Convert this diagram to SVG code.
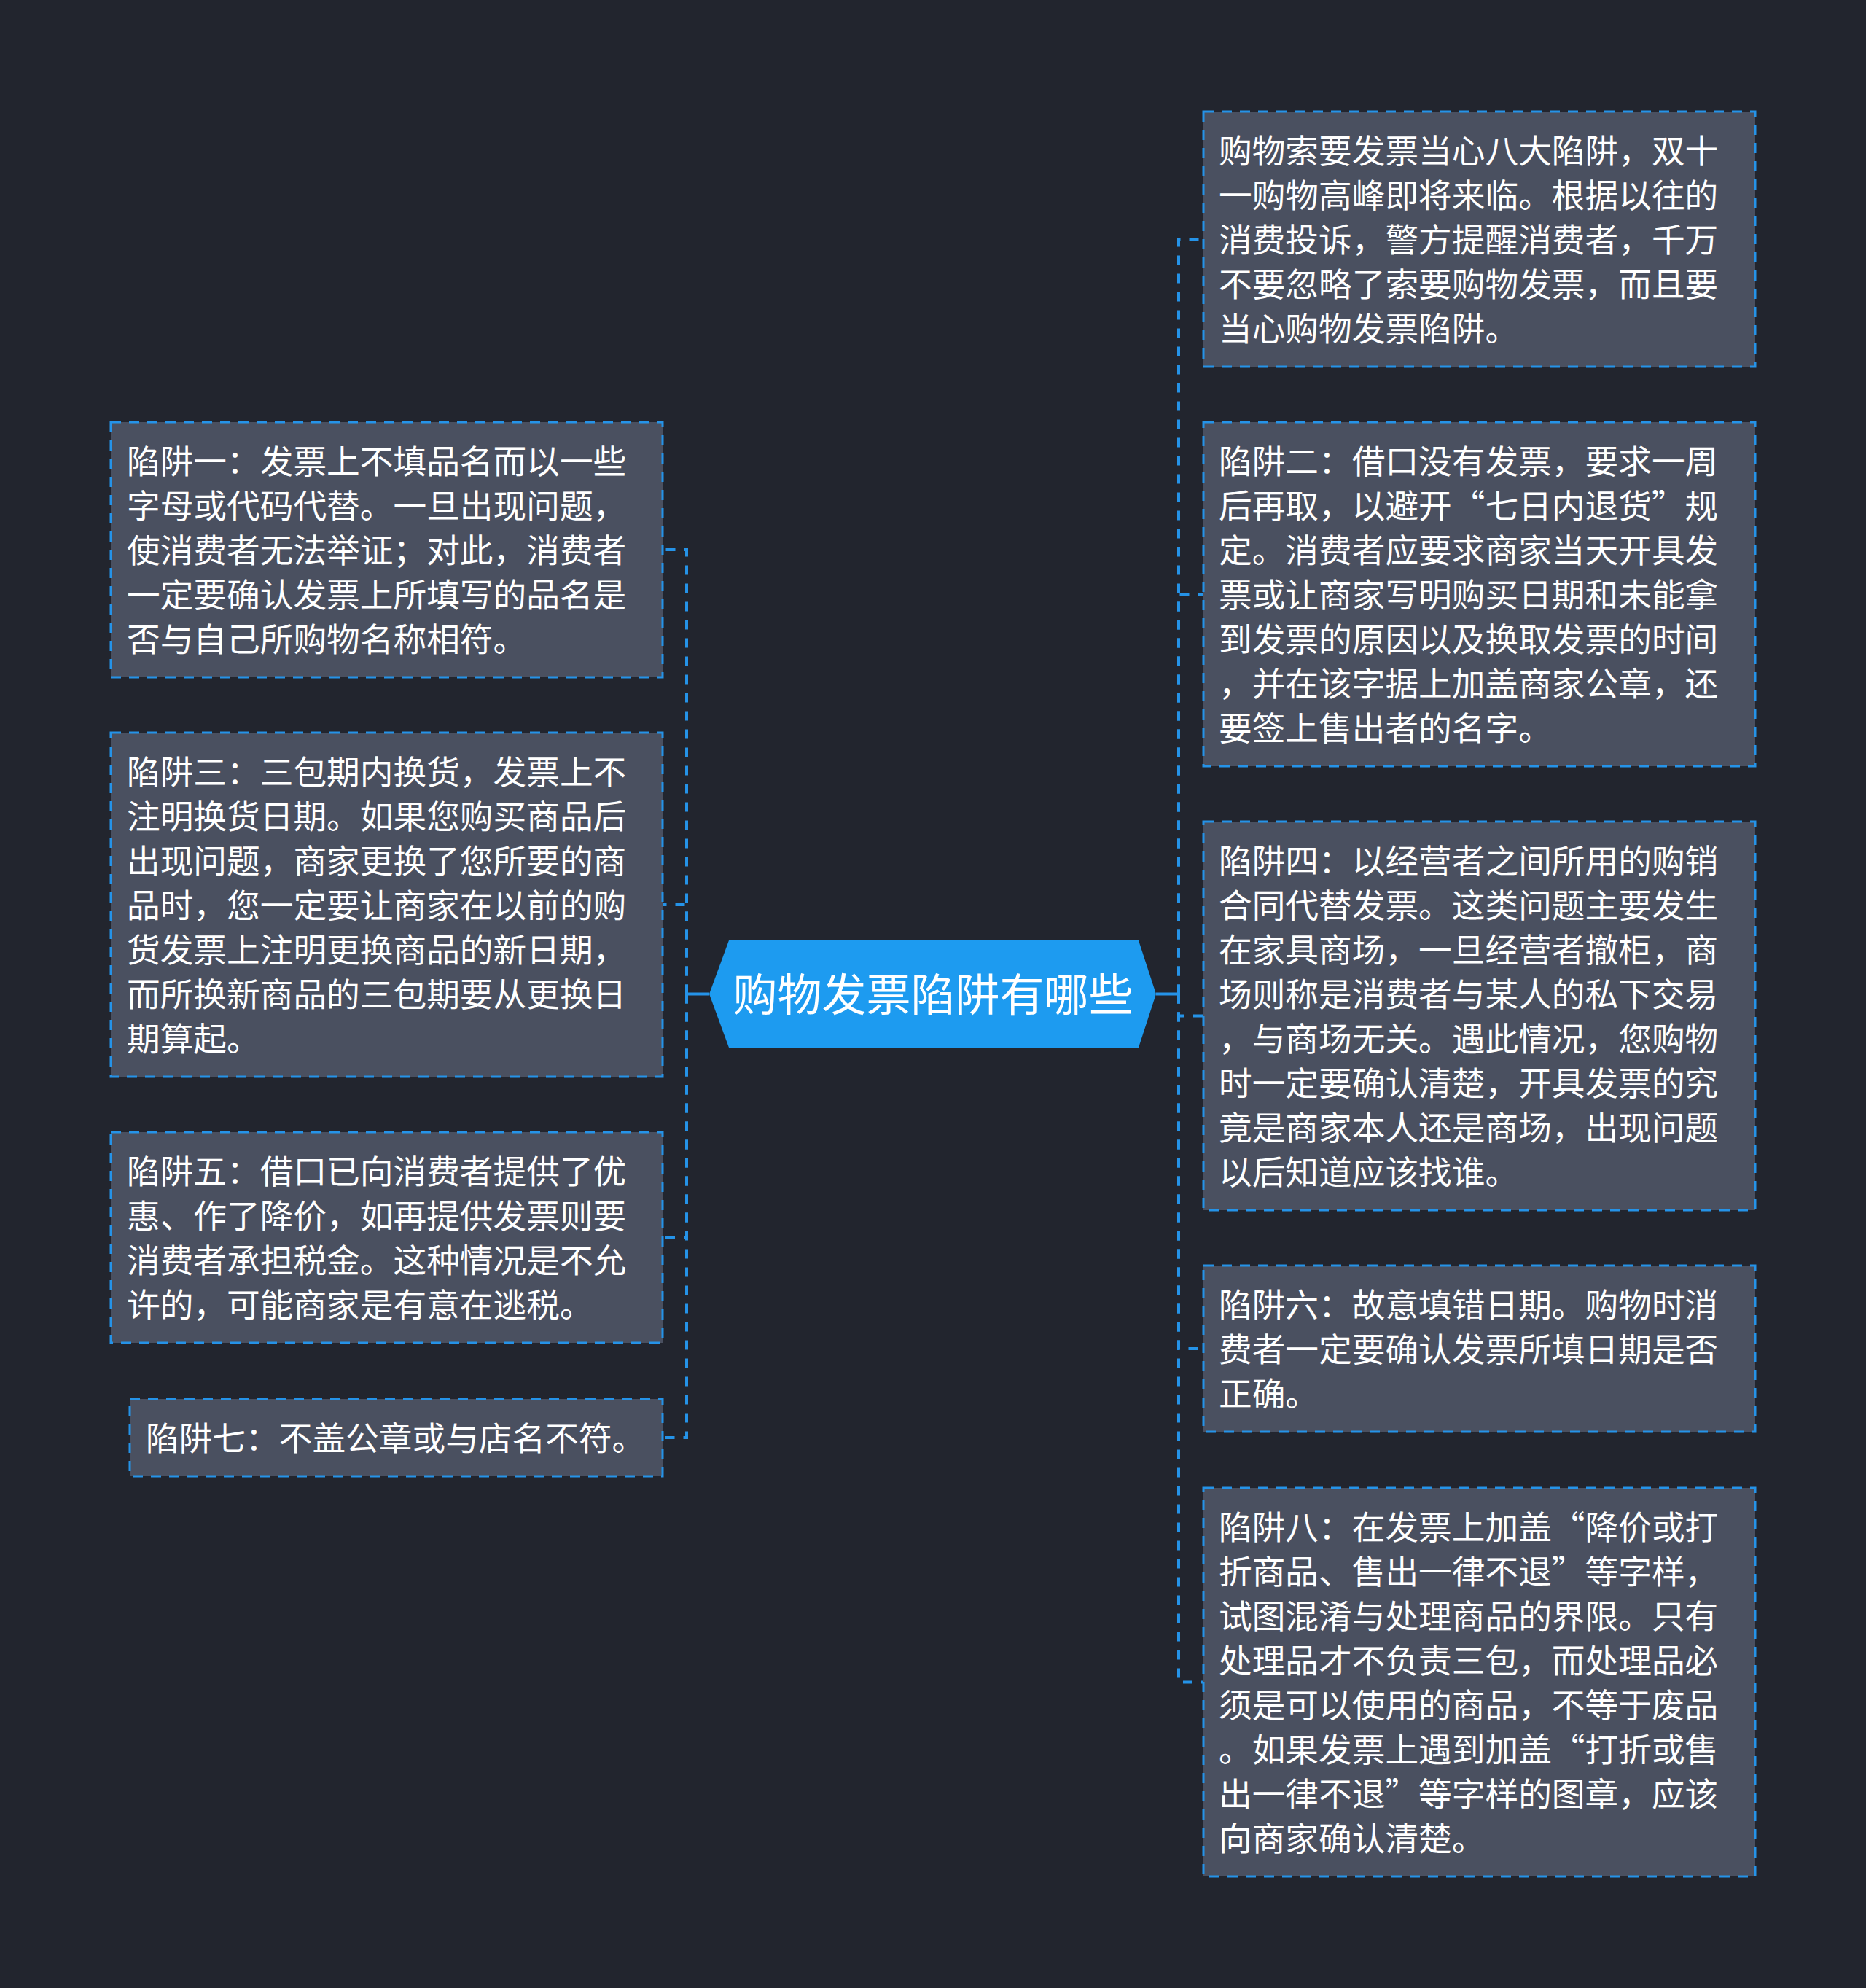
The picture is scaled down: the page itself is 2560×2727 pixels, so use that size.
<svg xmlns="http://www.w3.org/2000/svg" width="2560" height="2727" viewBox="0 0 2560 2727">
<defs>
<style>
.bg{fill:#22252e}
.box{fill:#4a5060;stroke:#2593e8;stroke-width:3;stroke-dasharray:14 11}
.t{font-family:"Noto Sans CJK SC","Noto Sans",sans-serif;font-size:45.7px;fill:#ffffff}
.ct{font-family:"Noto Sans CJK SC","Noto Sans",sans-serif;font-size:61px;fill:#ffffff;text-anchor:middle}
.c{fill:none;stroke:#2593e8;stroke-width:4;stroke-dasharray:13 12}
.cs{fill:none;stroke:#2593e8;stroke-width:4}
</style>
</defs>
<rect class="bg" x="0" y="0" width="2560" height="2727"/>
<g id="connectors">
<path class="cs" d="M973,1363.5 H942"/>
<path class="cs" d="M1586,1363.5 H1617"/>
<path class="c" d="M942,1363.5 V754 H909"/>
<path class="c" d="M942,1363.5 V1241 H909"/>
<path class="c" d="M942,1363.5 V1697.5 H909"/>
<path class="c" d="M942,1363.5 V1972 H909"/>
<path class="c" d="M1617,1363.5 V328 H1651"/>
<path class="c" d="M1617,1363.5 V815 H1651"/>
<path class="c" d="M1617,1363.5 V1393.5 H1651"/>
<path class="c" d="M1617,1363.5 V1850 H1651"/>
<path class="c" d="M1617,1363.5 V2307.5 H1651"/>
</g>
<g id="center">
<polygon points="973,1363.5 1000,1290 1562,1290 1586,1363.5 1562,1437 1000,1437" fill="#1d9bf0"/>
<text class="ct" x="1280" y="1386.5">购物发票陷阱有哪些</text>
</g>
<g id="r1">
<rect class="box" x="1651" y="153" width="757" height="350"/>
<text class="t" x="1672" y="223.5">购物索要发票当心八大陷阱，双十</text>
<text class="t" x="1672" y="284.5">一购物高峰即将来临。根据以往的</text>
<text class="t" x="1672" y="345.5">消费投诉，警方提醒消费者，千万</text>
<text class="t" x="1672" y="406.5">不要忽略了索要购物发票，而且要</text>
<text class="t" x="1672" y="467.5">当心购物发票陷阱。</text>
</g>
<g id="r2">
<rect class="box" x="1651" y="579" width="757" height="472"/>
<text class="t" x="1672" y="649.5">陷阱二：借口没有发票，要求一周</text>
<text class="t" x="1672" y="710.5">后再取，以避开“七日内退货”规</text>
<text class="t" x="1672" y="771.5">定。消费者应要求商家当天开具发</text>
<text class="t" x="1672" y="832.5">票或让商家写明购买日期和未能拿</text>
<text class="t" x="1672" y="893.5">到发票的原因以及换取发票的时间</text>
<text class="t" x="1672" y="954.5">，并在该字据上加盖商家公章，还</text>
<text class="t" x="1672" y="1015.5">要签上售出者的名字。</text>
</g>
<g id="r3">
<rect class="box" x="1651" y="1127" width="757" height="533"/>
<text class="t" x="1672" y="1197.5">陷阱四：以经营者之间所用的购销</text>
<text class="t" x="1672" y="1258.5">合同代替发票。这类问题主要发生</text>
<text class="t" x="1672" y="1319.5">在家具商场，一旦经营者撤柜，商</text>
<text class="t" x="1672" y="1380.5">场则称是消费者与某人的私下交易</text>
<text class="t" x="1672" y="1441.5">，与商场无关。遇此情况，您购物</text>
<text class="t" x="1672" y="1502.5">时一定要确认清楚，开具发票的究</text>
<text class="t" x="1672" y="1563.5">竟是商家本人还是商场，出现问题</text>
<text class="t" x="1672" y="1624.5">以后知道应该找谁。</text>
</g>
<g id="r4">
<rect class="box" x="1651" y="1736" width="757" height="228"/>
<text class="t" x="1672" y="1806.5">陷阱六：故意填错日期。购物时消</text>
<text class="t" x="1672" y="1867.5">费者一定要确认发票所填日期是否</text>
<text class="t" x="1672" y="1928.5">正确。</text>
</g>
<g id="r5">
<rect class="box" x="1651" y="2041" width="757" height="533"/>
<text class="t" x="1672" y="2111.5">陷阱八：在发票上加盖“降价或打</text>
<text class="t" x="1672" y="2172.5">折商品、售出一律不退”等字样，</text>
<text class="t" x="1672" y="2233.5">试图混淆与处理商品的界限。只有</text>
<text class="t" x="1672" y="2294.5">处理品才不负责三包，而处理品必</text>
<text class="t" x="1672" y="2355.5">须是可以使用的商品，不等于废品</text>
<text class="t" x="1672" y="2416.5">。如果发票上遇到加盖“打折或售</text>
<text class="t" x="1672" y="2477.5">出一律不退”等字样的图章，应该</text>
<text class="t" x="1672" y="2538.5">向商家确认清楚。</text>
</g>
<g id="l1">
<rect class="box" x="152" y="579" width="757" height="350"/>
<text class="t" x="174" y="649.5">陷阱一：发票上不填品名而以一些</text>
<text class="t" x="174" y="710.5">字母或代码代替。一旦出现问题，</text>
<text class="t" x="174" y="771.5">使消费者无法举证；对此，消费者</text>
<text class="t" x="174" y="832.5">一定要确认发票上所填写的品名是</text>
<text class="t" x="174" y="893.5">否与自己所购物名称相符。</text>
</g>
<g id="l2">
<rect class="box" x="152" y="1005" width="757" height="472"/>
<text class="t" x="174" y="1075.5">陷阱三：三包期内换货，发票上不</text>
<text class="t" x="174" y="1136.5">注明换货日期。如果您购买商品后</text>
<text class="t" x="174" y="1197.5">出现问题，商家更换了您所要的商</text>
<text class="t" x="174" y="1258.5">品时，您一定要让商家在以前的购</text>
<text class="t" x="174" y="1319.5">货发票上注明更换商品的新日期，</text>
<text class="t" x="174" y="1380.5">而所换新商品的三包期要从更换日</text>
<text class="t" x="174" y="1441.5">期算起。</text>
</g>
<g id="l3">
<rect class="box" x="152" y="1553" width="757" height="289"/>
<text class="t" x="174" y="1623.5">陷阱五：借口已向消费者提供了优</text>
<text class="t" x="174" y="1684.5">惠、作了降价，如再提供发票则要</text>
<text class="t" x="174" y="1745.5">消费者承担税金。这种情况是不允</text>
<text class="t" x="174" y="1806.5">许的，可能商家是有意在逃税。</text>
</g>
<g id="l4">
<rect class="box" x="178" y="1919" width="731" height="106"/>
<text class="t" x="200" y="1989.5">陷阱七：不盖公章或与店名不符。</text>
</g>
</svg>
